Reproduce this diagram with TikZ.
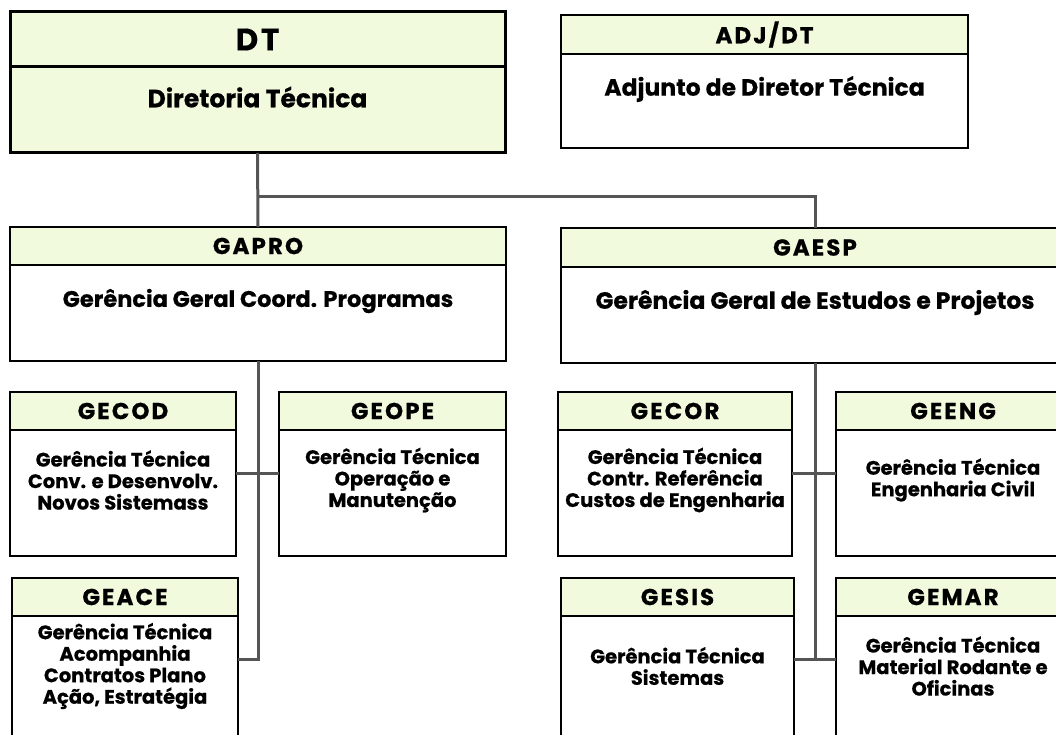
\documentclass[tikz,border=0pt]{standalone}
\usepackage{fontspec}
\setmainfont{Poppins}[BoldFeatures={FakeBold=0.6}]
\newfontfamily\headfont{Poppins}[LetterSpace=9,BoldFeatures={FakeBold=0.6}]
\usetikzlibrary{positioning}
\definecolor{headfill}{RGB}{242,250,222}
\definecolor{linkgray}{RGB}{85,85,85}

\begin{document}
\begin{tikzpicture}[x=1pt,y=-1pt,
head/.style = {draw, line width=2pt, fill=headfill, inner sep=0, outer sep=0, minimum height=38pt, font=\headfont\bfseries\fontsize{23}{25}\selectfont},
body/.style = {draw, line width=2pt, fill=white, inner sep=0, outer sep=0, minimum height=126pt},
txt/.style = {align=center, font=\bfseries\fontsize{19.5}{21.5}\selectfont},
bigtxt/.style = {align=center, font=\bfseries\fontsize{23.5}{26}\selectfont},
link/.style = {draw=linkgray, line width=3pt}]
\useasboundingbox (0,0) rectangle (1056,735);
\clip (0,0) rectangle (1056,735);
% top level
\node[head, line width=3pt, minimum width=495pt, minimum height=55pt, font=\headfont\bfseries\fontsize{31}{33}\selectfont] (dthead) at (257.5,39.5) {DT};
\node[body, line width=3pt, fill=headfill, minimum width=495pt, minimum height=86pt, below=0pt of dthead] (dt) {};
\node[bigtxt, font=\bfseries\fontsize{25}{28}\selectfont] at ([yshift=-30pt]dt.north) {Diretoria Técnica};
\node[head, minimum width=407pt, minimum height=39pt] (adjhead) at (764.5,34.5) {ADJ/DT};
\node[body, minimum width=407pt, minimum height=94pt, below=0pt of adjhead] (adj) {};
\node[bigtxt] at ([yshift=-35pt]adj.north) {Adjunto de Diretor Técnica};
% gerencias gerais
\node[head, minimum width=496pt] (gaprohead) at (258,246) {GAPRO};
\node[body, minimum width=496pt, minimum height=96pt, below=0pt of gaprohead] (gapro) {};
\node[bigtxt, font=\bfseries\fontsize{22.5}{25}\selectfont] at ([yshift=-36pt]gapro.north) {Gerência Geral Coord. Programas};
\node[head, minimum width=508pt] (gaesphead) at (815,247.5) {GAESP};
\node[body, minimum width=508pt, minimum height=96pt, below=0pt of gaesphead] (gaesp) {};
\node[bigtxt] at ([yshift=-36pt]gaesp.north) {Gerência Geral de Estudos e Projetos};
% GAPRO
\node[head, minimum width=226pt] (gecodhead) at (123,411) {GECOD};
\node[body, minimum width=226pt, below=0pt of gecodhead] (gecod) {};
\node[txt] at ([yshift=-50pt]gecod.north) {Gerência Técnica\\Conv. e Desenvolv.\\Novos Sistemass};
\node[head, minimum width=227pt] (geopehead) at (392.5,411) {GEOPE};
\node[body, minimum width=227pt, below=0pt of geopehead] (geope) {};
\node[txt] at ([yshift=-50pt]geope.north) {Gerência Técnica\\Operação e\\Manutenção};
\node[head, minimum width=226pt] (geacehead) at (125,597) {GEACE};
\node[body, minimum width=226pt, below=0pt of geacehead] (geace) {};
\node[txt] at ([yshift=-50pt]geace.north) {Gerência Técnica\\Acompanhia\\Contratos Plano\\Ação, Estratégia};
% GAESP
\node[head, minimum width=234pt] (gecorhead) at (675,411) {GECOR};
\node[body, minimum width=234pt, below=0pt of gecorhead] (gecor) {};
\node[txt] at ([yshift=-50pt]gecor.north) {Gerência Técnica\\Contr. Referência\\Custos de Engenharia};
\node[head, minimum width=234pt] (geenghead) at (953,411) {GEENG};
\node[body, minimum width=234pt, below=0pt of geenghead] (geeng) {};
\node[txt] at ([yshift=-50pt]geeng.north) {Gerência Técnica\\Engenharia Civil};
\node[head, minimum width=233pt] (gesishead) at (677.5,597) {GESIS};
\node[body, minimum width=233pt, below=0pt of gesishead] (gesis) {};
\node[txt] at ([yshift=-50pt]gesis.north) {Gerência Técnica\\Sistemas};
\node[head, minimum width=234pt] (gemarhead) at (953,597) {GEMAR};
\node[body, minimum width=234pt, below=0pt of gemarhead] (gemar) {};
\node[txt] at ([yshift=-50pt]gemar.north) {Gerência Técnica\\Material Rodante e\\Oficinas};
% connectors
\coordinate (fork) at (dt.south |- 0,197);
\draw[link] (dt.south) -- (gaprohead.north);
\draw[link] (fork) -| (gaesphead.north);
\draw[link] (gapro.south) |- ([yshift=20pt]geace.east);
\draw[link] ([yshift=20pt]gecod.east) -- ([yshift=20pt]geope.west);
\draw[link] (gaesp.south) |- ([yshift=20pt]gesis.east);
\draw[link] ([yshift=20pt]gecor.east) -- ([yshift=20pt]geeng.west);
\draw[link] ([yshift=20pt]gesis.east) -- ([yshift=20pt]gemar.west);
\end{tikzpicture}
\end{document}
